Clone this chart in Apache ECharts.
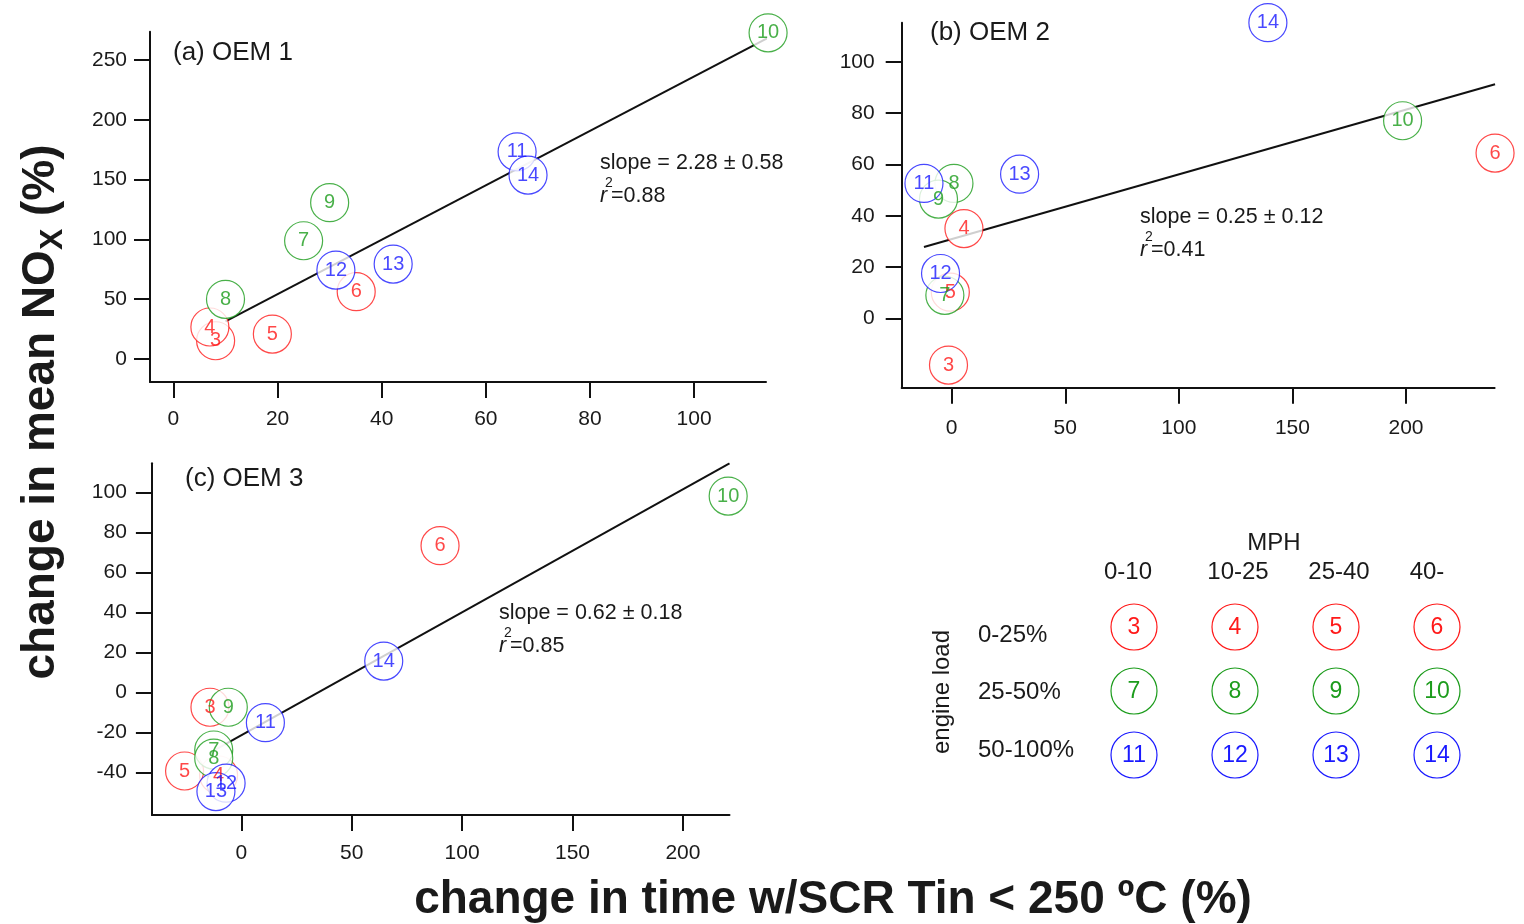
<!DOCTYPE html>
<html>
<head>
<meta charset="utf-8">
<script src="https://cdn.jsdelivr.net/npm/echarts@6/dist/echarts.min.js"></script>
<style>
html,body{margin:0;padding:0;background:#fff;}
#chart{width:1524px;height:924px;}
</style>
</head>
<body>
<div id="chart"></div>
<script>
// ---- data ----
const ids = [3, 4, 5, 6, 7, 8, 9, 10, 11, 12, 13, 14];
const oem1X = [8.1, 7.0, 19.0, 35.1, 25.0, 10.0, 30.0, 114.2, 66.0, 31.2, 42.2, 68.1];
const oem1Y = [15.3, 26.8, 20.9, 56.3, 98.9, 49.9, 130.7, 272.8, 173.3, 74.4, 79.4, 153.8];
const oem2X = [-1.4, 5.4, -0.6, 239.2, -3.0, 1.0, -5.8, 198.5, -12.2, -4.9, 29.9, 139.2];
const oem2Y = [-18.2, 35.0, 10.2, 64.4, 9.0, 52.6, 46.5, 77.0, 52.6, 17.5, 56.2, 115.2];
const oem3X = [-14.2, -10.3, -25.7, 90.0, -12.5, -12.5, -5.9, 220.5, 10.9, -6.9, -11.5, 64.5];
const oem3Y = [-7.3, -41.2, -39.2, 73.5, -28.7, -32.8, -7.3, 98.3, -15.0, -45.3, -49.5, 15.8];
// regression line end points
const fit1X = [10.0, 114.2];  const fit1Y = [31.4, 268.5];
const fit2X = [-12.2, 239.2]; const fit2Y = [27.8, 91.2];
const fit3X = [-12.5, 221.1]; const fit3Y = [-29.0, 114.7];
// tick labels
const ticks1X = [0, 20, 40, 60, 80, 100];
const ticks1Y = [0, 50, 100, 150, 200, 250];
const ticks2X = [0, 50, 100, 150, 200];
const ticks2Y = [0, 20, 40, 60, 80, 100];
const ticks3X = [0, 50, 100, 150, 200];
const ticks3Y = [-40, -20, 0, 20, 40, 60, 80, 100];
// panel texts
const panelTitles = ['(a) OEM 1', '(b) OEM 2', '(c) OEM 3'];
const slopeTexts = ['slope = 2.28 ± 0.58', 'slope = 0.25 ± 0.12', 'slope = 0.62 ± 0.18'];
const r2Texts = ['=0.88', '=0.41', '=0.85'];
// legend
const mphLabels = ['0-10', '10-25', '25-40', '40-'];
const loadLabels = ['0-25%', '25-50%', '50-100%'];

// ---- styling ----
const FONT = "'Liberation Sans', Arial, sans-serif";
const rowColors = ['#ff1a1a', '#1c9c1c', '#1a1aff'];
const colorOf = id => rowColors[Math.floor((id - 3) / 4)];
const TXT = '#1a1a1a';

const grids = [
  {left: 150, top: 31.7, width: 616, height: 350.3},
  {left: 901.7, top: 22.7, width: 592.9, height: 365},
  {left: 151.9, top: 463.3, width: 577.6, height: 351.7}
];
const xRanges = [[-4.5, 113.8], [-22, 239], [-40.5, 221.1]];
const yRanges = [[-19.2, 273.7], [-27, 115.2], [-61.2, 114.7]];
const xTicks = [ticks1X, ticks2X, ticks3X];
const yTicks = [ticks1Y, ticks2Y, ticks3Y];
const xMargins = [27, 30, 28];
const yMargins = [23, 27, 25];

function mkAxis(i, isX) {
  const r = isX ? xRanges[i] : yRanges[i];
  const t = isX ? xTicks[i] : yTicks[i];
  return {
    type: 'value', gridIndex: i, min: r[0], max: r[1],
    axisLine: {show: true, onZero: false, lineStyle: {color: '#111', width: 2}},
    axisTick: {show: true, inside: false, length: 16, lineStyle: {color: '#111', width: 2}, customValues: t},
    axisLabel: {customValues: t, fontSize: 21, color: TXT, fontFamily: FONT, margin: isX ? xMargins[i] : yMargins[i]},
    splitLine: {show: false}
  };
}

const xs = [oem1X, oem2X, oem3X];
const ys = [oem1Y, oem2Y, oem3Y];
const fits = [[fit1X, fit1Y], [fit2X, fit2Y], [fit3X, fit3Y]];

const series = [];
for (let i = 0; i < 3; i++) {
  series.push({
    type: 'line', xAxisIndex: i, yAxisIndex: i, z: 1,
    data: fits[i][0].map((x, k) => [x, fits[i][1][k]]),
    symbol: 'none', lineStyle: {color: '#111', width: 2}, silent: true
  });
  series.push({
    type: 'scatter', xAxisIndex: i, yAxisIndex: i, z: 2, clip: false,
    symbol: 'circle', symbolSize: 38,
    data: ids.map((id, k) => ({
      value: [xs[i][k], ys[i][k]], name: String(id),
      itemStyle: {color: '#fff', borderColor: colorOf(id), borderWidth: 1.2},
      label: {color: colorOf(id)}
    })),
    label: {show: true, position: 'inside', formatter: p => p.name, fontSize: 20, fontFamily: FONT},
    emphasis: {disabled: true}
  });
}

const graphic = [];
// panel titles
const titlePos = [[173, 53], [930, 33], [185, 479]];
titlePos.forEach((p, i) => graphic.push({type: 'text', x: p[0], y: p[1],
  style: {text: panelTitles[i], fontSize: 26, fontFamily: FONT, fill: TXT, verticalAlign: 'middle'}}));
// stats
const statPos = [[600, 163], [1140, 217], [499, 613]];
statPos.forEach((p, i) => {
  graphic.push({type: 'text', x: p[0], y: p[1],
    style: {text: slopeTexts[i], fontSize: 21.5, fontFamily: FONT, fill: TXT, verticalAlign: 'middle'}});
  graphic.push({type: 'text', x: p[0], y: p[1] + 33,
    style: {text: 'r', fontSize: 21.5, fontStyle: 'italic', fontFamily: FONT, fill: TXT, verticalAlign: 'middle'}});
  graphic.push({type: 'text', x: p[0] + 5, y: p[1] + 20,
    style: {text: '2', fontSize: 14, fontFamily: FONT, fill: TXT, verticalAlign: 'middle'}});
  graphic.push({type: 'text', x: p[0] + 11, y: p[1] + 33,
    style: {text: r2Texts[i], fontSize: 21.5, fontFamily: FONT, fill: TXT, verticalAlign: 'middle'}});
});
// axis titles
graphic.push({type: 'text', x: 41, y: 412, rotation: Math.PI / 2,
  style: {text: '{m|change in mean NO}{s|X}{m| (%)}', align: 'center', verticalAlign: 'middle', fill: TXT,
    rich: {m: {fontSize: 46, fontWeight: 'bold', fontFamily: FONT, lineHeight: 56, fill: TXT},
           s: {fontSize: 32, fontWeight: 'bold', fontFamily: FONT, lineHeight: 40, verticalAlign: 'bottom', fill: TXT}}}});
graphic.push({type: 'text', x: 833, y: 900,
  style: {text: 'change in time w/SCR Tin < 250 ºC (%)', align: 'center', verticalAlign: 'middle',
    fontSize: 46, fontWeight: 'bold', fontFamily: FONT, fill: TXT}});
// legend
const colX = [1134, 1235, 1336, 1437];
const headX = [1128, 1238, 1339, 1427];
const rowY = [627, 691, 755];
graphic.push({type: 'text', x: 1274, y: 543, style: {text: 'MPH', fontSize: 24, fontFamily: FONT, fill: TXT, align: 'center', verticalAlign: 'middle'}});
mphLabels.forEach((t, c) => graphic.push({type: 'text', x: headX[c], y: 572,
  style: {text: t, fontSize: 24, fontFamily: FONT, fill: TXT, align: 'center', verticalAlign: 'middle'}}));
const loadY = [635, 692, 750];
loadLabels.forEach((t, r) => graphic.push({type: 'text', x: 978, y: loadY[r],
  style: {text: t, fontSize: 24, fontFamily: FONT, fill: TXT, align: 'left', verticalAlign: 'middle'}}));
graphic.push({type: 'text', x: 942, y: 692, rotation: Math.PI / 2,
  style: {text: 'engine load', fontSize: 24, fontFamily: FONT, fill: TXT, align: 'center', verticalAlign: 'middle'}});
ids.forEach((id, k) => {
  const r = Math.floor(k / 4), c = k % 4;
  graphic.push({type: 'circle', shape: {cx: colX[c], cy: rowY[r], r: 23},
    style: {fill: '#fff', stroke: colorOf(id), lineWidth: 1.2}});
  graphic.push({type: 'text', x: colX[c], y: rowY[r] + 1,
    style: {text: String(id), fontSize: 23, fontFamily: FONT, fill: colorOf(id), align: 'center', verticalAlign: 'middle'}});
});

const chart = echarts.init(document.getElementById('chart'), null, {renderer: 'canvas'});
chart.setOption({
  animation: false,
  backgroundColor: '#fff',
  grid: grids,
  xAxis: [0, 1, 2].map(i => mkAxis(i, true)),
  yAxis: [0, 1, 2].map(i => mkAxis(i, false)),
  series: series,
  graphic: graphic
});
</script>
</body>
</html>
